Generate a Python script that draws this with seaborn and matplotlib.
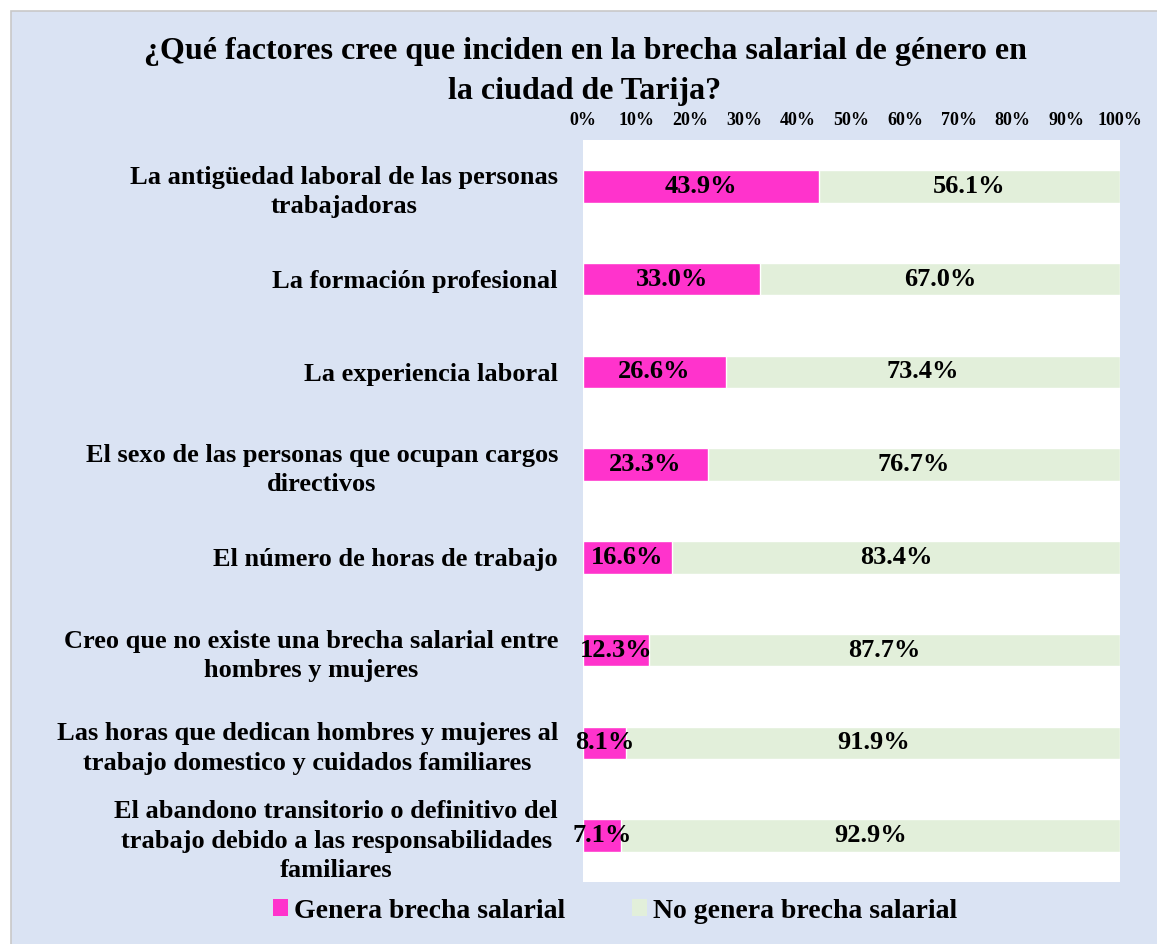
import matplotlib
matplotlib.use("Agg")
import matplotlib.pyplot as plt
from matplotlib.patches import Patch, Rectangle
import seaborn as sns
import pandas as pd

# Survey answers: share of respondents per factor (percent)
factores = [
    "La antigüedad laboral de las personas\ntrabajadoras",
    "La formación profesional",
    "La experiencia laboral",
    "El sexo de las personas que ocupan cargos\ndirectivos",
    "El número de horas de trabajo",
    "Creo que no existe una brecha salarial entre\nhombres y mujeres",
    "Las horas que dedican hombres y mujeres al\ntrabajo domestico y cuidados familiares",
    "El abandono transitorio o definitivo del\ntrabajo debido a las responsabilidades\nfamiliares",
]
genera = [43.9, 33.0, 26.6, 23.3, 16.6, 12.3, 8.1, 7.1]
no_genera = [56.1, 67.0, 73.4, 76.7, 83.4, 87.7, 91.9, 92.9]
ticks = [0, 10, 20, 30, 40, 50, 60, 70, 80, 90, 100]
tick_labels = [f"{t}%" for t in ticks]

serie_si = "Genera brecha salarial"
serie_no = "No genera brecha salarial"
titulo = "¿Qué factores cree que inciden en la brecha salarial de género en\nla ciudad de Tarija?"

MAGENTA = "#ff33cc"
VERDE = "#e2efda"
FONDO = "#dae3f3"

df = pd.DataFrame({"factor": factores, "si": genera, "no": no_genera})
df["total"] = df["si"] + df["no"]

sns.set_theme(style="white")
plt.rcParams["font.family"] = ["Liberation Serif", "DejaVu Serif"]
plt.rcParams["font.weight"] = "bold"
plt.rcParams["text.color"] = "black"
plt.rcParams["xtick.color"] = "black"
plt.rcParams["ytick.color"] = "black"

fig = plt.figure(figsize=(11.57, 9.44), dpi=100)
fig.patch.set_facecolor("white")
# chart area background with a thin frame on the top and left
fondo = Rectangle((11 / 1157, -0.01), 1.02, 1 - 11 / 944 + 0.01,
                  transform=fig.transFigure, facecolor=FONDO,
                  edgecolor="#c8c8c8", linewidth=1.2, zorder=-5)
fig.patches.append(fondo)

ax = fig.add_axes([583 / 1157, 1 - 882 / 944, (1120 - 583) / 1157, (882 - 140) / 944])
ax.set_zorder(1)
ax.set_facecolor("white")

sns.barplot(data=df, x="total", y="factor", color=VERDE, saturation=1,
            width=0.35, orient="h", ax=ax)
sns.barplot(data=df, x="si", y="factor", color=MAGENTA, saturation=1,
            width=0.35, orient="h", ax=ax)

for i, (s, n) in enumerate(zip(df["si"], df["no"])):
    ax.text(s / 2, i, f"{s:.1f}%", ha="center", va="center",
            fontsize=19, fontweight="bold", color="black")
    ax.text(s + n / 2, i, f"{n:.1f}%", ha="center", va="center",
            fontsize=19, fontweight="bold", color="black")

ax.set_xlim(0, 100)
ax.set_ylim(len(factores) - 0.5, -0.5)
ax.xaxis.tick_top()
ax.set_xticks(ticks)
ax.set_xticklabels(tick_labels, fontsize=13, fontweight="bold")
ax.tick_params(axis="x", length=0, pad=8)
ax.tick_params(axis="y", length=0, pad=18)
ax.set_yticks(range(len(factores)))
ax.set_yticklabels(factores, fontsize=19, fontweight="bold")
for t in ax.get_yticklabels():
    t.set_multialignment("center")
    t.set_linespacing(1.35)
ax.set_xlabel("")
ax.set_ylabel("")
ax.grid(False)
for sp in ax.spines.values():
    sp.set_visible(False)

fig.text(585 / 1157, 1 - 71 / 944, titulo, ha="center", va="center",
         fontsize=23, fontweight="bold", linespacing=1.5)

handles = [Patch(facecolor=MAGENTA, edgecolor="none", label=serie_si),
           Patch(facecolor=VERDE, edgecolor="none", label=serie_no)]
fig.legend(handles=handles, loc="center", bbox_to_anchor=(615 / 1157, 1 - 911 / 944),
           ncol=2, frameon=False, handlelength=0.55, handleheight=0.55,
           handletextpad=0.2, columnspacing=2.4, prop={"weight": "bold", "size": 20})

fig.savefig("out.png", dpi=100, facecolor=fig.get_facecolor())
